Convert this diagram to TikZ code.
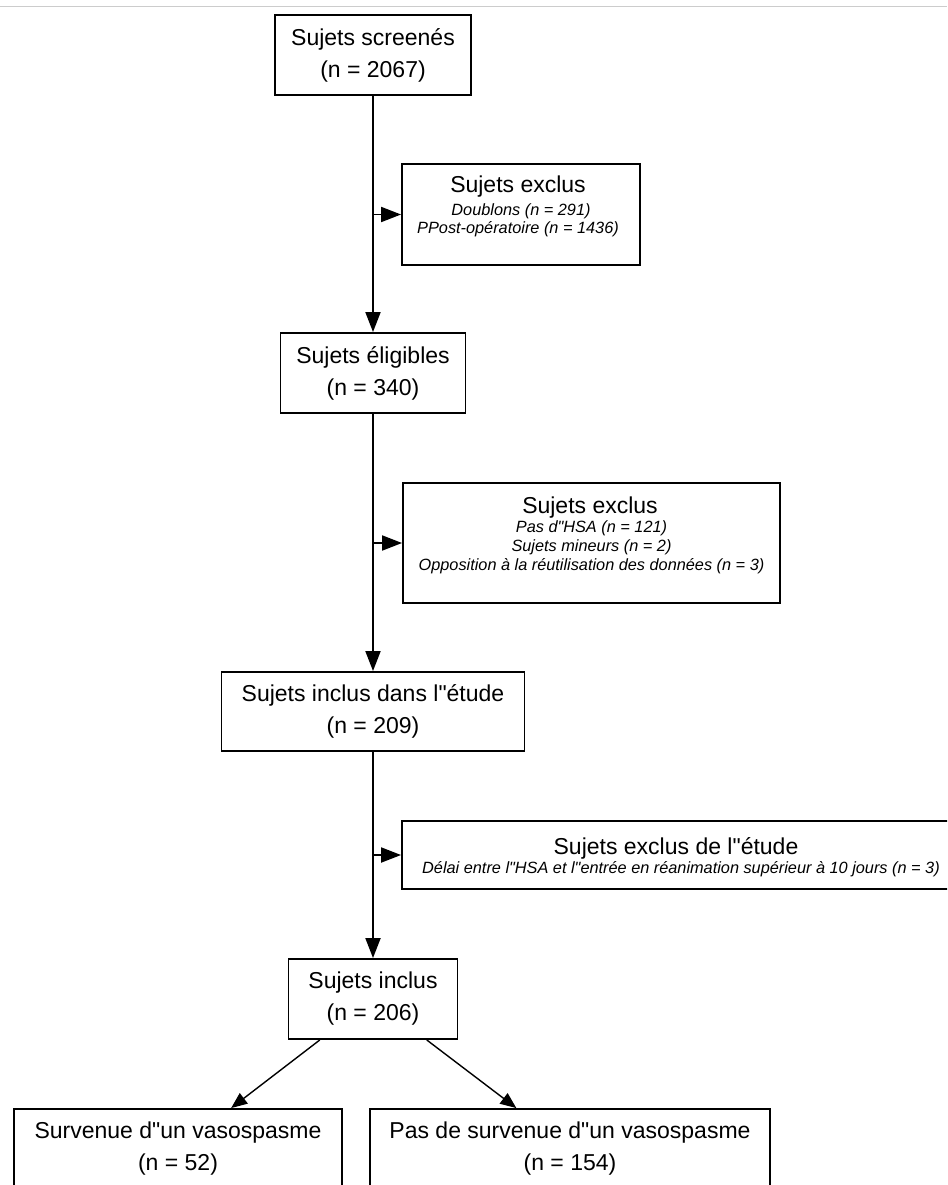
\documentclass[tikz,border=0pt]{standalone}
\usepackage{fontspec}
\setmainfont{Liberation Sans}[Ligatures=TeXOff]
\usetikzlibrary{arrows.meta}
\begin{document}
\begin{tikzpicture}[x=1pt,y=-1pt,
  mainbox/.style={draw, line width=1.9pt, align=center, font=\fontsize{23}{32}\selectfont, inner sep=0pt},
  exbox/.style={draw, line width=1.9pt, inner sep=0pt},
  head/.style={anchor=base, font=\fontsize{23}{26}\selectfont, inner sep=0pt},
  item/.style={anchor=base, font=\fontsize{16.3}{19}\selectfont\itshape, inner sep=0pt},
  arr/.style={line width=1.9pt, -{Triangle[length=20pt,width=15pt]}},
  arrd/.style={line width=1.4pt, -{Triangle[length=16pt,width=13pt]}}
]
\useasboundingbox (0,0) rectangle (947,1185);
\clip (0,0) rectangle (947,1185);
\fill[white] (0,0) rectangle (947,1185);
\draw[black!20, line width=1pt] (0,7) -- (947,7);

% main column
\node[mainbox, minimum width=196pt, minimum height=80pt] (scr) at (373,55) {Sujets screenés\\(n = 2067)};
\node[mainbox, minimum width=185pt, minimum height=80pt] (elig) at (373,373) {Sujets éligibles\\(n = 340)};
\node[mainbox, minimum width=303pt, minimum height=79pt] (incl) at (373,711.5) {Sujets inclus dans l"étude\\(n = 209)};
\node[mainbox, minimum width=169pt, minimum height=80pt] (incl2) at (373,999) {Sujets inclus\\(n = 206)};
\node[mainbox, minimum width=328pt, minimum height=80pt] (res1) at (178,1149) {Survenue d"un vasospasme\\(n = 52)};
\node[mainbox, minimum width=400pt, minimum height=80pt] (res2) at (570,1149) {Pas de survenue d"un vasospasme\\(n = 154)};

% exclusion boxes
\node[exbox, minimum width=238pt, minimum height=101pt] (ex1) at (521,214.5) {};
\node[head] (ex1h) at (518,193) {Sujets exclus};
\node[item] (ex1a) at (521,215) {Doublons (n = 291)};
\node[item] (ex1b) at (518,233) {PPost-opératoire (n = 1436)};

\node[exbox, minimum width=377pt, minimum height=120pt] (ex2) at (591.5,543) {};
\node[head] (ex2h) at (590,513) {Sujets exclus};
\node[item] (ex2a) at (591.5,532) {Pas d"HSA (n = 121)};
\node[item] (ex2b) at (591.5,551) {Sujets mineurs (n = 2)};
\node[item] (ex2c) at (591.5,570) {Opposition à la réutilisation des données (n = 3)};

\node[exbox, minimum width=552pt, minimum height=68pt] (ex3) at (678,855) {};
\node[head] (ex3h) at (676,854) {Sujets exclus de l"étude};
\node[item] (ex3a) at (681,873) {Délai entre l"HSA et l"entrée en réanimation supérieur à 10 jours (n = 3)};

% connectors
\draw[arr] (scr) -- (elig);
\draw[arr] (scr.south |- ex1.west) -- (ex1.west);
\draw[arr] (elig) -- (incl);
\draw[arr] (elig.south |- ex2.west) -- (ex2.west);
\draw[arr] (incl) -- (incl2);
\draw[arr] (incl.south |- ex3.west) -- (ex3.west);
\draw[arrd] (incl2) -- (res1);
\draw[arrd] (incl2) -- (res2);
\end{tikzpicture}
\end{document}
